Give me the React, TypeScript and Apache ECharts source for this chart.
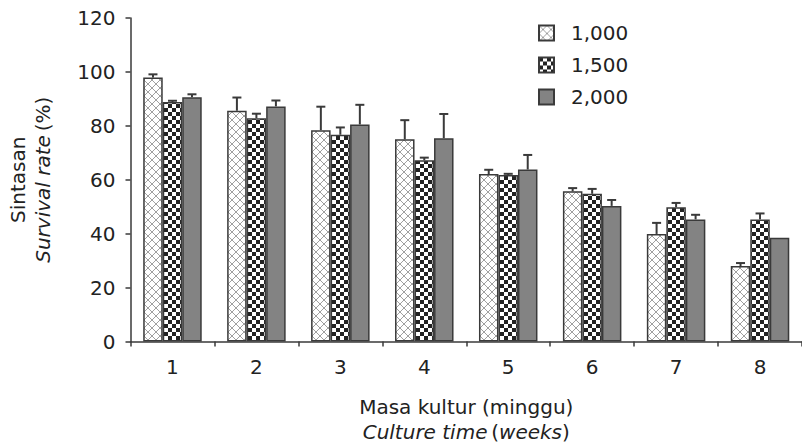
import React, { useEffect, useRef } from "react";
import * as echarts from "echarts";

const categories = ["1", "2", "3", "4", "5", "6", "7", "8"];
const seriesNames = ["1,000", "1,500", "2,000"];
const mean1000 = [97.9, 85.6, 78.4, 75.0, 62.1, 55.7, 39.9, 28.0];
const sd1000 = [1.2, 4.9, 8.7, 7.1, 1.6, 1.2, 4.1, 1.1];
const mean1500 = [88.8, 82.8, 76.7, 67.2, 61.8, 54.8, 49.8, 45.3];
const sd1500 = [0.5, 1.7, 2.7, 1.0, 0.4, 1.8, 1.6, 2.2];
const mean2000 = [90.6, 87.2, 80.5, 75.4, 63.8, 50.3, 45.3, 38.5];
const sd2000 = [1.1, 2.2, 7.3, 9.0, 5.4, 2.2, 1.7, 0];
const yTicks = { min: 0, max: 120, interval: 20 };

const FONT = "DejaVu Sans";
const FS = 20;
const BAR_W = 19.5;

function makeCrossHatch() {
  const c = document.createElement("canvas");
  c.width = 8;
  c.height = 8;
  const ctx = c.getContext("2d")!;
  ctx.fillStyle = "#ffffff";
  ctx.fillRect(0, 0, 8, 8);
  ctx.strokeStyle = "#a0a0a0";
  ctx.lineWidth = 1;
  ctx.beginPath();
  ctx.moveTo(0, 0);
  ctx.lineTo(8, 8);
  ctx.moveTo(8, 0);
  ctx.lineTo(0, 8);
  ctx.stroke();
  return c;
}

function makeChecker() {
  const c = document.createElement("canvas");
  c.width = 8;
  c.height = 8;
  const ctx = c.getContext("2d")!;
  ctx.fillStyle = "#ffffff";
  ctx.fillRect(0, 0, 8, 8);
  ctx.fillStyle = "#222222";
  ctx.fillRect(0, 0, 4, 4);
  ctx.fillRect(4, 4, 4, 4);
  return c;
}

export default function App() {
  const ref = useRef<HTMLDivElement>(null);
  useEffect(() => {
    document.body.style.margin = "0";
    if (!ref.current) return;
    const chart = echarts.init(ref.current, undefined, { renderer: "svg" });

    const fills = [
      { image: makeCrossHatch(), repeat: "repeat" },
      { image: makeChecker(), repeat: "repeat" },
      "#838383",
    ];
    const means = [mean1000, mean1500, mean2000];
    const sds = [sd1000, sd1500, sd2000];

    const barSeries = means.map((m, j) => ({
      type: "bar",
      name: seriesNames[j],
      data: m,
      barWidth: BAR_W,
      barGap: "0%",
      itemStyle: { color: fills[j] as any, borderColor: "#3a3a3a", borderWidth: 1.5 },
    }));

    const errSeries = means.map((m, j) => ({
      type: "custom",
      name: seriesNames[j] + " err",
      z: 5,
      data: m.map((v, i) => [i, v, sds[j][i]]),
      encode: { x: 0, y: 1 },
      renderItem: (params: any, api: any) => {
        const cat = api.value(0);
        const v = api.value(1);
        const sd = api.value(2);
        if (!sd) return null;
        const p = api.coord([cat, v]);
        const q = api.coord([cat, v + sd]);
        const x = p[0] + (j - 1) * BAR_W;
        const style = { stroke: "#3a3a3a", lineWidth: 2 };
        return {
          type: "group",
          children: [
            { type: "line", shape: { x1: x, y1: p[1], x2: x, y2: q[1] }, style },
            { type: "line", shape: { x1: x - 4.5, y1: q[1], x2: x + 4.5, y2: q[1] }, style },
          ],
        };
      },
    }));

    const rich = (lh: number) => ({
      n: { fontSize: FS, color: "#222", fontFamily: FONT, lineHeight: lh },
      i: { fontSize: FS, color: "#222", fontFamily: FONT, fontStyle: "italic", lineHeight: lh },
    });

    chart.setOption({
      animation: false,
      textStyle: { fontFamily: FONT },
      legend: {
        orient: "vertical",
        left: 538,
        top: 23,
        itemWidth: 15,
        itemHeight: 15,
        itemGap: 12,
        padding: 0,
        icon: "rect",
        data: seriesNames,
        textStyle: {
          fontSize: FS,
          lineHeight: 16,
          color: "#222",
          fontFamily: FONT,
          padding: [0, 0, 0, 12],
        },
      },
      grid: { left: 130, top: 18, width: 678, height: 328 },
      xAxis: {
        type: "category",
        data: categories,
        axisLine: { lineStyle: { color: "#3a3a3a", width: 1.5 } },
        axisTick: { show: true, length: 5, lineStyle: { color: "#3a3a3a", width: 1.5 } },
        axisLabel: { fontSize: FS, color: "#222", margin: 15, fontFamily: FONT },
        name: "{n|Masa kultur (minggu)}\n{i|Culture time} {n|(}{i|weeks}{n|)}",
        nameLocation: "middle",
        nameGap: 53,
        nameTextStyle: { rich: rich(25) },
      },
      yAxis: {
        type: "value",
        min: yTicks.min,
        max: yTicks.max,
        interval: yTicks.interval,
        splitLine: { show: false },
        axisLine: { show: true, lineStyle: { color: "#3a3a3a", width: 1.5 } },
        axisTick: { show: true, length: 5, lineStyle: { color: "#3a3a3a", width: 1.5 } },
        axisLabel: { fontSize: FS, color: "#222", margin: 15, fontFamily: FONT },
        name: "{n|Sintasan}\n{i|Survival rate} {n|(%)}",
        nameLocation: "middle",
        nameGap: 75,
        nameTextStyle: { rich: rich(25) },
      },
      series: [...barSeries, ...errSeries],
    } as any);

    return () => chart.dispose();
  }, []);
  return <div ref={ref} style={{ width: 802, height: 447 }} />;
}
